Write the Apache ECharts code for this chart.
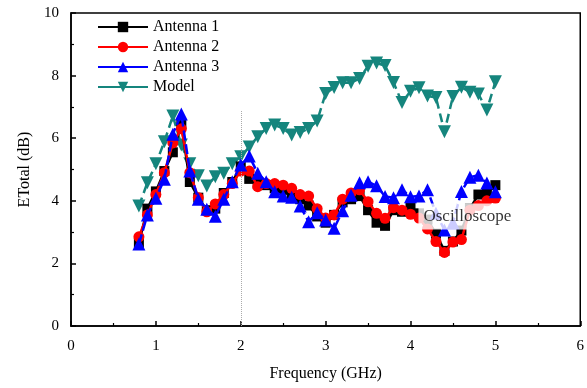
<!DOCTYPE html>
<html>
<head>
<meta charset="utf-8">
<script src="https://cdn.jsdelivr.net/npm/echarts@6/dist/echarts.min.js"></script>
<style>
    html,body{margin:0;padding:0;background:#fff;}
    #chart{width:587px;height:388px;}
</style>
</head>
<body>
<div id="chart"></div>
<script>
    // frequency (GHz)
    const freq = [0.8,0.9,1.0,1.1,1.2,1.3,1.4,1.5,1.6,1.7,1.8,1.9,2.0,2.1,2.2,2.3,2.4,2.5,2.6,2.7,2.8,2.9,
                  3.0,3.1,3.2,3.3,3.4,3.5,3.6,3.7,3.8,3.9,4.0,4.1,4.2,4.3,4.4,4.5,4.6,4.7,4.8,4.9,5.0];
    const antenna1 = [2.65,3.75,4.3,4.95,5.55,6.45,4.6,4.1,3.7,3.75,4.25,4.6,5.1,4.7,4.55,4.5,4.4,4.35,4.2,4.05,3.85,3.5,
                      3.3,3.55,3.95,4.05,4.15,3.7,3.3,3.2,3.7,3.65,3.8,3.6,3.4,2.95,2.4,2.7,3.05,3.75,4.2,4.25,4.5];
    const antenna2 = [2.85,3.55,4.2,4.9,5.85,6.3,4.9,4.1,3.65,3.9,4.2,4.55,4.95,4.95,4.45,4.55,4.55,4.5,4.4,4.2,4.15,3.75,
                      3.45,3.55,4.05,4.25,4.35,3.97,3.6,3.44,3.78,3.7,3.57,3.45,3.1,2.7,2.35,2.68,2.76,3.7,3.85,4.0,4.08];
    const antenna3 = [2.62,3.55,4.08,4.69,6.13,6.77,4.95,4.05,3.73,3.51,4.05,4.61,5.14,5.43,4.88,4.61,4.29,4.15,4.11,3.83,3.33,3.62,
                      3.39,3.12,3.68,4.18,4.58,4.61,4.48,4.14,4.1,4.35,4.13,4.15,4.35,3.6,3.07,3.3,4.3,4.75,4.82,4.57,4.29];
    const model = [3.83,4.58,5.18,5.89,6.71,5.78,5.18,4.8,4.47,4.77,4.88,5.18,5.41,5.72,6.05,6.31,6.42,6.31,6.1,6.18,6.31,6.55,
                   7.43,7.62,7.77,7.77,7.91,8.3,8.4,8.32,7.78,7.14,7.5,7.61,7.35,7.3,6.21,7.33,7.63,7.47,7.41,6.9,7.8];
    const xTicks = [0,1,2,3,4,5,6];
    const yTicks = [0,2,4,6,8,10];
    const markerLineTop = 6.9;        // top of the dotted line at 2 GHz
    const noteAt = [4.67,3.5];        // "Oscilloscope" label

    const font = '"Liberation Serif","Times New Roman",serif';
    const pairs = ys => freq.map((f,i)=>[f,ys[i]]);

    let myChart = echarts.init(document.getElementById('chart'));
    myChart.setOption({
        animation:false,
        textStyle:{fontFamily:font,color:'#000'},
        grid:{
            left:71,
            right:4,
            top:13,
            bottom:62,
            show:true,
            borderColor:'#000',
            borderWidth:1.5,
        },
        legend:{
            orient:'vertical',
            left:92,
            top:14,
            itemWidth:50,
            itemHeight:13,
            itemGap:4,
            lineStyle:{type:'solid'},//图例里都是实线
            textStyle:{fontFamily:font,fontSize:16,color:'#000'},
            data:['Antenna 1','Antenna 2','Antenna 3','Model'],
        },
        xAxis:{
            type:'value',
            min:xTicks[0],
            max:xTicks[xTicks.length-1],
            interval:1,
            name:'Frequency (GHz)',
            nameLocation:'middle',
            nameGap:40,
            nameTextStyle:{fontFamily:font,fontSize:16,color:'#000'},
            axisLine:{lineStyle:{color:'#000',width:1.5}},
            axisTick:{inside:true,length:5,lineStyle:{color:'#000',width:1.5}},
            minorTick:{show:true,splitNumber:2,length:3,lineStyle:{color:'#000',width:1.2}},
            axisLabel:{fontFamily:font,fontSize:15,color:'#000',margin:13},
            splitLine:{show:false},
        },
        yAxis:{
            type:'value',
            min:yTicks[0],
            max:yTicks[yTicks.length-1],
            interval:2,
            name:'ETotal (dB)',
            nameLocation:'middle',
            nameGap:31,
            nameTextStyle:{fontFamily:font,fontSize:16,color:'#000'},
            axisLine:{show:true,lineStyle:{color:'#000',width:1.5}},
            axisTick:{show:true,inside:true,length:5,lineStyle:{color:'#000',width:1.5}},
            minorTick:{show:true,splitNumber:2,length:3,lineStyle:{color:'#000',width:1.2}},
            axisLabel:{fontFamily:font,fontSize:15,color:'#000',margin:12},
            splitLine:{show:false},
        },
        series:[
            {
                name:'Model',
                type:'line',
                color:'#15857d',
                symbol:'triangle',
                symbolRotate:180,
                symbolSize:13,
                lineStyle:{width:2.5,type:[9,5]},
                data:pairs(model),
                z:2,
            },
            {
                name:'Antenna 1',
                type:'line',
                color:'#000',
                symbol:'rect',
                symbolSize:10,
                lineStyle:{width:2.5},
                data:pairs(antenna1),
                z:3,
            },
            {
                name:'Antenna 2',
                type:'line',
                color:'#ff0000',
                symbol:'circle',
                symbolSize:11,
                lineStyle:{width:2.5},
                data:pairs(antenna2),
                z:4,
            },
            {
                name:'Antenna 3',
                type:'line',
                color:'#0000ff',
                symbol:'triangle',
                symbolSize:13,
                lineStyle:{width:2.5,type:[10,4]},
                data:pairs(antenna3),
                z:5,
            },
            {
                // dotted guide at 2 GHz and the annotation
                type:'scatter',
                symbolSize:0,
                silent:true,
                data:[{value:noteAt,label:{
                    show:true,
                    position:'inside',
                    formatter:'Oscilloscope',
                    fontFamily:font,
                    fontSize:17,
                    color:'#000',
                    backgroundColor:'#fff',
                    padding:[5,5,4,5],
                }}],
                markLine:{
                    silent:true,
                    symbol:'none',
                    label:{show:false},
                    lineStyle:{color:'#aaa',type:'dotted',width:1},
                    data:[[{coord:[2,0]},{coord:[2,markerLineTop]}]],
                },
                z:10,
            },
        ],
    });
</script>
</body>
</html>
